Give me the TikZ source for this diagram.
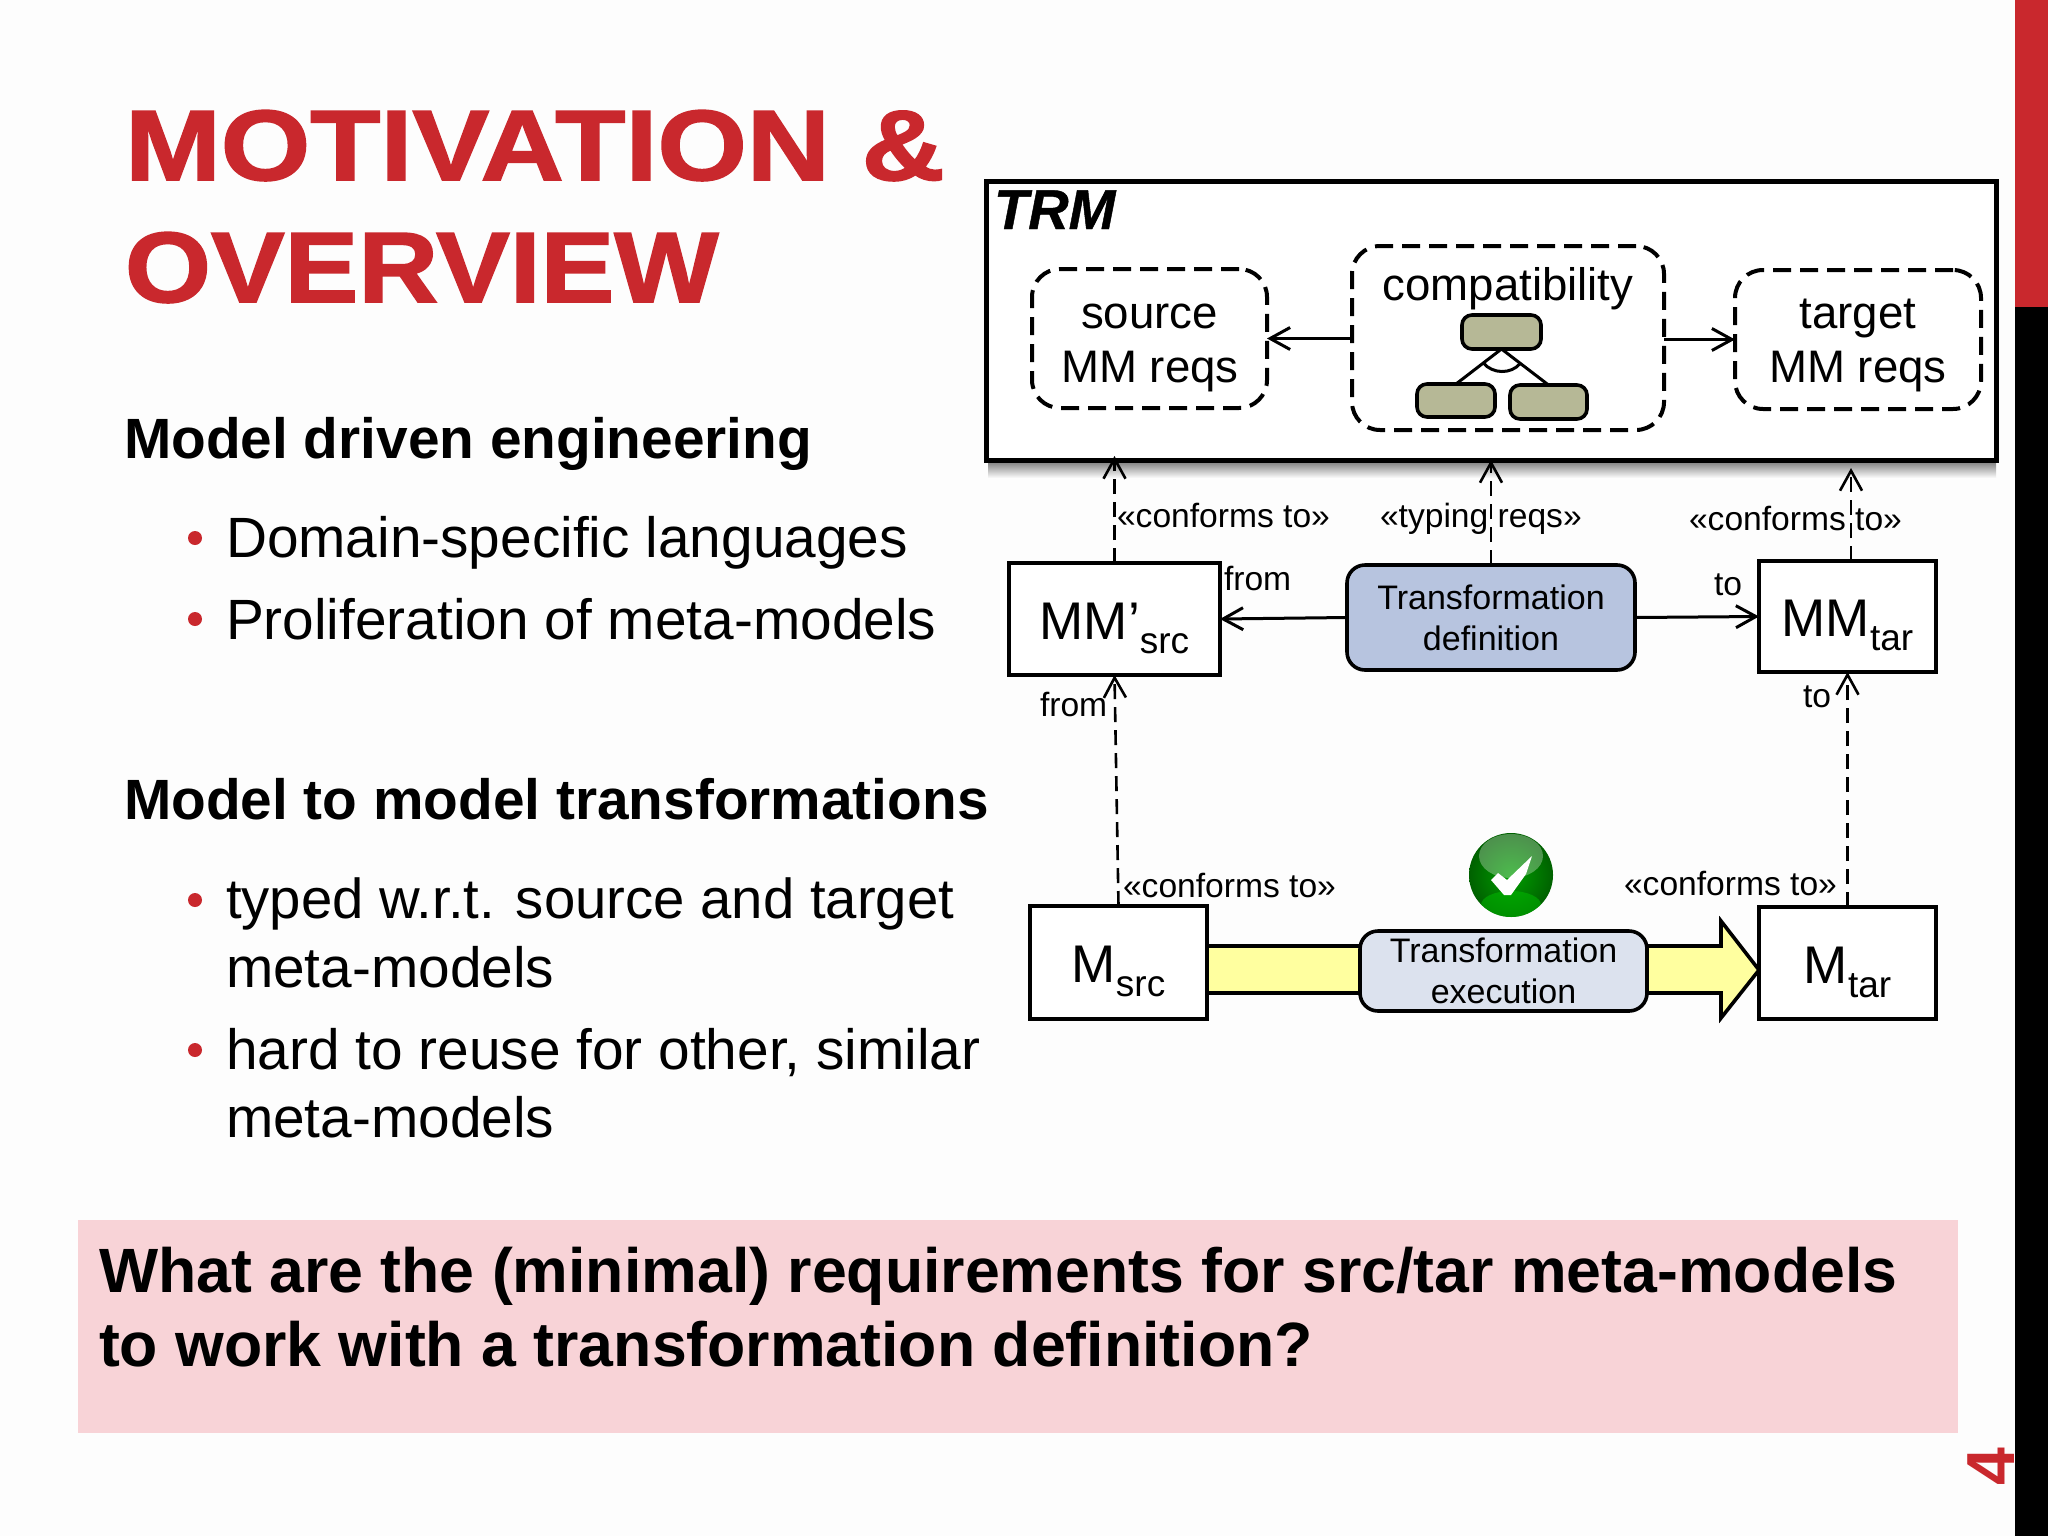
\documentclass[tikz,border=0pt]{standalone}
\usepackage{fontspec}
\setmainfont{Liberation Sans}
\newfontfamily\titlef[FakeBold=1.6]{Liberation Sans Bold}
\newfontfamily\trmf[FakeBold=0.8]{Liberation Sans Bold Italic}
\usetikzlibrary{arrows.meta,calc}
\definecolor{bg}{HTML}{FDFDFD}
\definecolor{brand}{HTML}{C9282D}
\definecolor{pinkb}{HTML}{F8D3D7}
\definecolor{tan}{HTML}{B6B896}
\definecolor{bluea}{HTML}{B7C4DF}
\definecolor{blueb}{HTML}{DCE2EE}
\definecolor{yel}{HTML}{FFFF9F}
\newcommand{\fsz}[1]{\fontsize{#1pt}{#1pt}\selectfont}
\newcommand{\subt}[1]{\raisebox{-7pt}{\fsz{18.5}#1}}
\tikzset{
 lbl/.style={anchor=base west,inner sep=0pt,outer sep=0pt},
 lblc/.style={anchor=base,inner sep=0pt,outer sep=0pt},
 titletxt/.style={lbl,text=brand,font=\fsz{50}\titlef},
 headtxt/.style={lbl,font=\fsz{28.4}\bfseries},
 bodytxt/.style={lbl,font=\fsz{28.4}},
 questxt/.style={lbl,font=\fsz{31.3}\bfseries},
 smalltxt/.style={lbl,font=\fsz{16.8}},
 bigtxt/.style={lblc,font=\fsz{22.8}},
 bul/.style={circle,fill=brand,inner sep=0pt,minimum size=7pt},
 plainbox/.style={draw=black,line width=1.8pt,fill=white,inner sep=0pt,outer sep=0pt,text height=20pt,text depth=0pt,font=\fsz{26.5}},
 dashbox/.style={draw=black,line width=2pt,rounded corners=14pt,dash pattern=on 9pt off 4.5pt,inner sep=0pt,outer sep=0pt},
 mini/.style={draw=black,line width=1.8pt,fill=tan,rounded corners=5pt,inner sep=0pt,outer sep=0pt},
 transf/.style={draw=black,line width=1.8pt,rounded corners=9pt,inner sep=0pt,outer sep=0pt,align=center,font=\fontsize{17pt}{20.5pt}\selectfont},
 solidarr/.style={line width=1.5pt,-{Straight Barb[length=10pt,width=11pt,line width=1.5pt]}},
 dasharr/.style={line width=1.3pt,dash pattern=on 7.5pt off 4pt,-{Straight Barb[length=10pt,width=11pt,line width=1.3pt]}},
}
\begin{document}
\begin{tikzpicture}[x=0.5pt,y=-0.5pt]
\useasboundingbox (0,0) rectangle (2048,1536);
\fill[bg] (0,0) rectangle (2048,1536);
% slide number, partly under the bar
\node[inner sep=0pt,text=brand,rotate=90,font=\fsz{34}\bfseries] (pageno) at (1991,1467) {4};
% side bar
\fill[brand] (2015,0) rectangle (2048,307);
\fill[black] (2015,307) rectangle (2048,1536);
% title
\node[titletxt] (t1) at (125,180) {\scalebox{1.15}[1]{MOTIVATION \&}};
\node[titletxt] (t2) at (125,302) {\scalebox{1.105}[1]{OVERVIEW}};
% left text
\node[headtxt] (h1) at (124,458) {Model driven engineering};
\node[bul] (b1) at (195,538) {};
\node[bodytxt] (d1) at (226,557) {Domain-specific languages};
\node[bul] (b2) at (195,619) {};
\node[bodytxt] (d2) at (226,639) {Proliferation of meta-models};
\node[headtxt] (h2) at (124,819) {Model to model transformations};
\node[bul] (b3) at (195,900) {};
\node[bodytxt,font=\fsz{28.15}] (d3) at (226,918) {typed w.r.t. source and target};
\node[bodytxt] (d4) at (226,987) {meta-models};
\node[bul] (b4) at (195,1050) {};
\node[bodytxt] (d5) at (226,1069) {hard to reuse for other, similar};
\node[bodytxt] (d6) at (226,1137) {meta-models};
% question
\fill[pinkb] (78,1220) rectangle (1958,1433);
\node[questxt] (q1) at (99,1292) {What are the (minimal) requirements for src/tar meta-models};
\node[questxt] (q2) at (99,1366) {to work with a transformation definition?};
% TRM
\shade[top color=black!55,bottom color=bg] (988,460) rectangle (1996,478);
\node[draw=black,line width=2.5pt,fill=white,inner sep=0pt,outer sep=0pt,minimum width=505pt,minimum height=139.5pt] (trm) at (1491,320.5) {};
\node[lbl,font=\fsz{28}\trmf] (trml) at (994,229) {TRM};
\node[dashbox,minimum width=117.5pt,minimum height=69.5pt] (srcr) at (1149.5,338.5) {};
\node[dashbox,minimum width=156pt,minimum height=92pt] (comp) at (1508,338) {};
\node[dashbox,minimum width=123pt,minimum height=69.5pt] (tarr) at (1858,339.5) {};
\node[bigtxt] (s1) at (1149.5,328) {source};
\node[bigtxt] (s2) at (1150,382) {MM reqs};
\node[bigtxt] (c1) at (1508,300) {compatibility};
\node[bigtxt] (g1) at (1858,328) {target};
\node[bigtxt] (g2) at (1858,382) {MM reqs};
\node[mini,minimum width=39.5pt,minimum height=17pt] (mt) at (1501.5,332) {};
\node[mini,minimum width=39pt,minimum height=16.5pt] (ml) at (1456,400.5) {};
\node[mini,minimum width=38.5pt,minimum height=17pt] (mr) at (1548.5,402) {};
\draw[line width=1.5pt] (mt.south) -- (ml.north);
\draw[line width=1.5pt] (mt.south) -- (mr.north);
\draw[line width=1.5pt] ($(mt.south)!0.4!(ml.north)$) to[out=-50,in=-130] ($(mt.south)!0.4!(mr.north)$);
\draw[solidarr] (comp.west |- srcr.east) -- (srcr.east);
\draw[solidarr] (comp.east |- tarr.west) -- (tarr.west);
% meta-model row
\node[plainbox,minimum width=105.5pt,minimum height=56pt] (mmsrc) at (1114.5,619) {MM’\subt{src}};
\node[plainbox,minimum width=88.5pt,minimum height=55.5pt] (mmtar) at (1847.5,616.5) {MM\subt{tar}};
\node[transf,fill=bluea,minimum width=144pt,minimum height=52.5pt] (tdef) at (1491,617.5) {Transformation\\definition};
\draw[solidarr] (tdef.west) -- (mmsrc.east);
\draw[solidarr] (tdef.east) -- (mmtar.west);
% model row
\draw[line width=1.8pt,fill=yel,line join=miter] (1207,946) -- (1721,946) -- (1721,921) -- (1759,970) -- (1721,1018) -- (1721,993) -- (1207,993) -- cycle;
\node[plainbox,minimum width=88.5pt,minimum height=56.5pt] (msrc) at (1118.5,962.5) {M\subt{src}};
\node[plainbox,minimum width=88.5pt,minimum height=56pt] (mtar) at (1847.5,963) {M\subt{tar}};
\node[transf,fill=blueb,minimum width=143.5pt,minimum height=40pt] (texe) at (1503.5,971) {Transformation\\execution};
% dashed relations
\draw[dasharr] (mmsrc.north) -- ([yshift=2pt]mmsrc.north |- trm.south);
\draw[dasharr] (tdef.north) -- (tdef.north |- trm.south);
\draw[dasharr,shorten >=4pt] ([xshift=1.75pt]mmtar.north) -- ([xshift=1.75pt]mmtar.north |- trm.south);
\draw[dasharr] (msrc.north) -- (mmsrc.south);
\draw[dasharr] (mtar.north) -- (mmtar.south);
% labels
\node[smalltxt] (e1) at (1117,527) {«conforms to»};
\node[smalltxt] (e2) at (1380,527) {«typing reqs»};
\node[smalltxt] (e3) at (1689,530) {«conforms to»};
\node[smalltxt] (e4) at (1224,590) {from};
\node[smalltxt] (e5) at (1714,595) {to};
\node[smalltxt] (e6) at (1040,716) {from};
\node[smalltxt] (e7) at (1803,707) {to};
\node[smalltxt] (e8) at (1123,897) {«conforms to»};
\node[smalltxt] (e9) at (1624,895) {«conforms to»};
% check icon
\shade[inner color=green!62!black,outer color=green!38!black] (1511,875) circle (42);
\begin{scope}
\clip (1511,875) circle (42);
\fill[white,opacity=.3] (1511,856) ellipse (32 and 22);
\fill[green!75!black,opacity=.5] (1511,905) ellipse (30 and 14);
\end{scope}
\fill[white] (1491,880) -- (1498,873) -- (1507,880) -- (1532,856) -- (1526,874) -- (1511,895) -- (1504,895) -- cycle;
\end{tikzpicture}
\end{document}
